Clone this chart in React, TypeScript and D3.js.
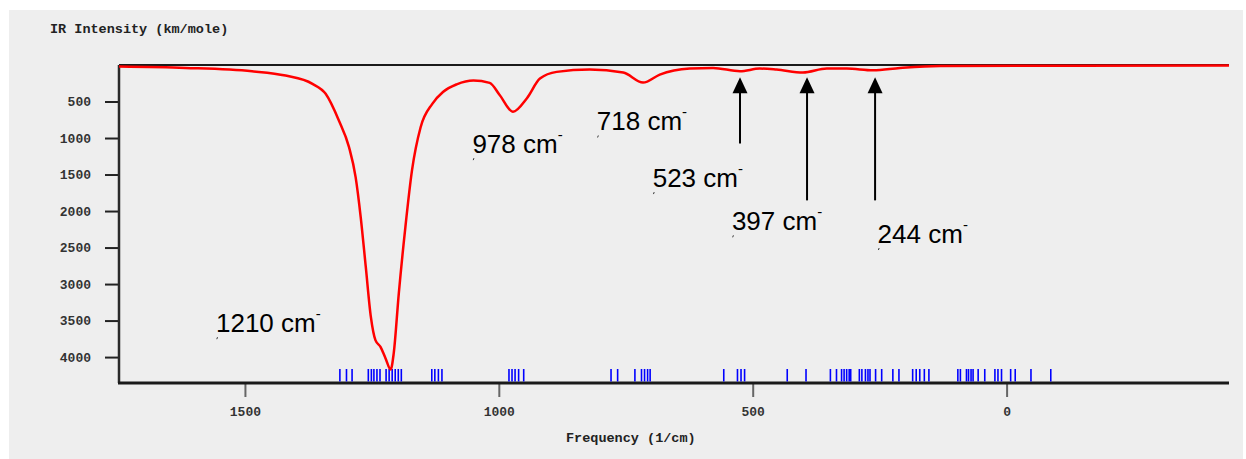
import * as d3 from "d3";
import { useEffect, useRef } from "react";

// spectrum: frequency (1/cm) and intensity (km/mole)
const specFreq = [1748, 1617, 1486, 1420, 1367, 1341, 1315, 1295, 1282, 1272, 1262, 1252, 1243, 1233, 1223, 1213, 1207, 1197, 1184, 1171, 1154, 1131, 1110, 1083, 1050, 1018, 998, 972, 945, 919, 886, 821, 755, 716, 683, 624, 578, 525, 486, 453, 401, 354, 315, 263, 210, 131, -438];
const specInt = [22, 40, 86, 145, 258, 395, 760, 1125, 1535, 2082, 2766, 3450, 3768, 3860, 4018, 4170, 3950, 3130, 2219, 1444, 852, 532, 370, 265, 212, 245, 414, 641, 459, 186, 94, 63, 104, 241, 131, 49, 40, 86, 49, 63, 104, 49, 49, 72, 40, 12, 8];

// stick positions (1/cm)
const sticks = [1313, 1300, 1289, 1257, 1251, 1246, 1240, 1234, 1222, 1216, 1210, 1204, 1198, 1192, 1132, 1126, 1119, 1112, 980, 974, 968, 961, 951, 779, 766, 732, 719, 713, 707, 702, 557, 530, 523, 516, 432, 395, 347, 335, 325, 320, 315, 310, 307, 290, 285, 278, 273, 269, 258, 246, 224, 212, 185, 178, 171, 162, 153, 96, 91, 79, 75, 70, 66, 56, 43, 23, 17, 10, -8, -17, -48, -87];

const xTicks = [1500, 1000, 500, 0];
const yTicks = [500, 1000, 1500, 2000, 2500, 3000, 3500, 4000];

const labelText = ["1210", "978", "718", "523", "397", "244"];
const labelFreq = [1557, 1052, 807, 697, 541, 254];
const labelInt = [3659, 1207, 897, 1672, 2264, 2438];

const arrowFreq = [525, 393, 259];
const arrowTop = [168, 168, 168];
const arrowBottom = [1075, 1854, 1854];

const W = 1246;
const H = 459;
const margin = { top: 65, left: 119, right: 17, bottom: 76 };
const iw = W - margin.left - margin.right;
const ih = H - margin.top - margin.bottom;
const mono = "'Liberation Mono', 'Courier New', monospace";

export default function App() {
  const ref = useRef<SVGSVGElement>(null);

  useEffect(() => {
    const svg = d3.select(ref.current);
    svg.selectAll("*").remove();

    svg.append("rect").attr("width", W).attr("height", H).attr("fill", "#fff");
    svg.append("rect").attr("x", 9).attr("y", 10).attr("width", 1234).attr("height", H - 10).attr("fill", "#eeeeee");

    const x = d3.scaleLinear().domain([1748, -438]).range([0, iw]);
    const y = d3.scaleLinear().domain([0, 4355]).range([0, ih]);

    const g = svg.append("g").attr("transform", `translate(${margin.left},${margin.top})`);

    // y axis
    const yAxis = d3.axisLeft(y).tickValues(yTicks).tickFormat(d3.format("d")).tickSize(14).tickSizeOuter(0).tickPadding(14);
    const ya = g.append("g").call(yAxis);
    ya.select(".domain").remove();
    ya.selectAll("line").attr("stroke", "#222").attr("stroke-width", 2);
    ya.selectAll("text")
      .attr("font-family", mono)
      .attr("font-size", 13)
      .attr("font-weight", "bold")
      .attr("fill", "#333");

    // x axis
    const xAxis = d3.axisBottom(x).tickValues(xTicks).tickFormat(d3.format("d")).tickSize(14).tickSizeOuter(0).tickPadding(10);
    const xa = g.append("g").attr("transform", `translate(0,${ih})`).call(xAxis);
    xa.select(".domain").remove();
    xa.selectAll("line").attr("stroke", "#666").attr("stroke-width", 2);
    xa.selectAll("text")
      .attr("font-family", mono)
      .attr("font-size", 13)
      .attr("font-weight", "bold")
      .attr("fill", "#333");

    // frame lines
    g.append("line").attr("x1", 0).attr("x2", iw).attr("y1", 0).attr("y2", 0).attr("stroke", "#1a1a1a").attr("stroke-width", 2);
    g.append("line").attr("x1", 0).attr("x2", 0).attr("y1", 0).attr("y2", ih).attr("stroke", "#2a2a2a").attr("stroke-width", 2.5);
    g.append("line").attr("x1", -1).attr("x2", iw).attr("y1", ih).attr("y2", ih).attr("stroke", "#1a1a1a").attr("stroke-width", 3);

    // sticks
    g.selectAll(".stick")
      .data(sticks)
      .join("line")
      .attr("class", "stick")
      .attr("x1", (d) => x(d))
      .attr("x2", (d) => x(d))
      .attr("y1", ih - 14)
      .attr("y2", ih - 1.5)
      .attr("stroke", "#0000ff")
      .attr("stroke-width", 1.6);

    // spectrum
    const pts = specFreq.map((f, i) => [f, specInt[i]] as [number, number]);
    const line = d3
      .line<[number, number]>()
      .x((d) => x(d[0]))
      .y((d) => y(d[1]))
      .curve(d3.curveMonotoneX);
    g.append("path")
      .attr("d", line(pts))
      .attr("fill", "none")
      .attr("stroke", "#ff0000")
      .attr("stroke-width", 2.5);

    // arrows
    arrowFreq.forEach((f, i) => {
      const ax = x(f);
      const t = y(arrowTop[i]);
      g.append("line")
        .attr("x1", ax)
        .attr("x2", ax)
        .attr("y1", t + 14)
        .attr("y2", y(arrowBottom[i]))
        .attr("stroke", "#000")
        .attr("stroke-width", 2);
      g.append("path")
        .attr("d", `M${ax},${t} L${ax - 7.5},${t + 16} L${ax + 7.5},${t + 16} Z`)
        .attr("fill", "#000");
    });

    // peak labels
    labelText.forEach((s, i) => {
      const lx = x(labelFreq[i]);
      const ly = y(labelInt[i]);
      const t = g.append("text")
        .attr("x", lx)
        .attr("y", ly)
        .attr("font-family", "'Liberation Sans', Arial, sans-serif")
        .attr("font-size", 26)
        .attr("fill", "#000");
      t.append("tspan").text(`${s} cm`);
      t.append("tspan").attr("dy", -13).attr("font-size", 15).text("-");
      g.append("line")
        .attr("x1", lx + 1.5)
        .attr("x2", lx + 0.8)
        .attr("y1", ly + 5)
        .attr("y2", ly + 7)
        .attr("stroke", "#333")
        .attr("stroke-width", 1);
    });

    // titles
    svg.append("text")
      .attr("x", 50)
      .attr("y", 33)
      .attr("font-family", mono)
      .attr("font-size", 13.5)
      .attr("font-weight", "bold")
      .attr("fill", "#222")
      .text("IR Intensity (km/mole)");
    svg.append("text")
      .attr("x", margin.left + x(740))
      .attr("y", 442)
      .attr("text-anchor", "middle")
      .attr("font-family", mono)
      .attr("font-size", 13.5)
      .attr("font-weight", "bold")
      .attr("fill", "#222")
      .text("Frequency (1/cm)");
  }, []);

  return (
    <svg
      ref={ref}
      width={W}
      height={H}
      style={{ position: "absolute", left: 0, top: 0 }}
    />
  );
}
